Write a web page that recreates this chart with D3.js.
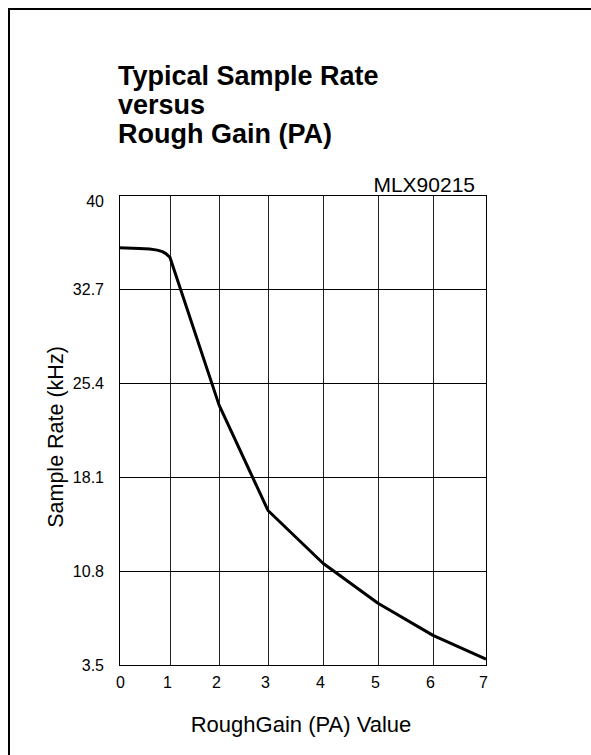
<!DOCTYPE html>
<html>
<head>
<meta charset="utf-8">
<script src="https://cdn.jsdelivr.net/npm/d3@7"></script>
<style>
  body { margin: 0; background: #fff; }
  text { font-family: "Liberation Sans", Arial, sans-serif; fill: #000; }
</style>
</head>
<body>
<script>
// data
var gainValues = [0, 0.4, 0.6, 0.75, 0.85, 0.92, 1, 2, 3, 4, 5, 6, 7]
var sampleRate = [35.9, 35.85, 35.8, 35.72, 35.6, 35.45, 35.15, 23.7, 15.5, 11.4, 8.3, 5.8, 3.95]
var xTicks = [0, 1, 2, 3, 4, 5, 6, 7]
var yTicks = [3.5, 10.8, 18.1, 25.4, 32.7, 40]
var titleLines = ["Typical Sample Rate", "versus", "Rough Gain (PA)"]

var W = 591, H = 755
var plot = {left: 119, top: 195, right: 486, bottom: 665}
// grid columns in the original are not evenly spaced
var colPos = [119, 170, 219, 268, 323, 378, 433, 486]

var svg = d3.select("body").append("svg")
    .attr("width", W).attr("height", H)

// outer frame, runs off the right/bottom edge
svg.append("rect")
    .attr("x", 9).attr("y", 9).attr("width", 700).attr("height", 900)
    .attr("fill", "none").attr("stroke", "#000").attr("stroke-width", 2)

var x = d3.scaleLinear().domain(xTicks).range(colPos)
var y = d3.scaleLinear().domain([3.5, 40]).range([plot.bottom, plot.top])

// title
svg.append("g").selectAll("text").data(titleLines).enter()
    .append("text")
    .attr("x", 118)
    .attr("y", function(d, i){ return 85 + i * 29 })
    .style("font-size", "27px").style("font-weight", "bold")
    .text(function(d){ return d })

svg.append("text")
    .attr("x", 475).attr("y", 192)
    .attr("text-anchor", "end")
    .style("font-size", "21px")
    .text("MLX90215")

// grid + labels via axes
var gx = svg.append("g")
    .attr("transform", `translate(0, ${plot.bottom})`)
    .call(d3.axisBottom(x).tickValues(xTicks).tickFormat(d3.format("d"))
        .tickSize(-(plot.bottom - plot.top)).tickPadding(0))
gx.select(".domain").remove()
gx.selectAll(".tick line").attr("stroke", "#222")
gx.selectAll(".tick text")
    .attr("y", 23).attr("dy", 0)
    .attr("dx", function(d){ return d == 0 ? 1 : -3 })
    .style("font-size", "16px")

var gy = svg.append("g")
    .attr("transform", `translate(${plot.left}, 0)`)
    .call(d3.axisLeft(y).tickValues(yTicks).tickFormat(d3.format(".1~f"))
        .tickSize(-(plot.right - plot.left)).tickPadding(0))
gy.select(".domain").remove()
gy.selectAll(".tick line").attr("stroke", "#000")
gy.selectAll(".tick text")
    .attr("x", -15)
    .attr("dy", function(d){ return d == 40 ? "0.7em" : "0.35em" })
    .style("font-size", "16px")

svg.append("rect")
    .attr("x", plot.left + 0.5).attr("y", plot.top + 0.5)
    .attr("width", plot.right - plot.left).attr("height", plot.bottom - plot.top)
    .attr("fill", "none").attr("stroke", "#000").attr("stroke-width", 1)

// the curve
var line = d3.line()
    .x(function(d){ return x(d[0]) })
    .y(function(d){ return y(d[1]) })
svg.append("path")
    .datum(d3.zip(gainValues, sampleRate))
    .attr("d", line)
    .attr("fill", "none").attr("stroke", "#000").attr("stroke-width", 3)
    .attr("stroke-linejoin", "round")

// axis titles
svg.append("text")
    .attr("x", 301).attr("y", 732)
    .attr("text-anchor", "middle")
    .style("font-size", "22px")
    .text("RoughGain (PA) Value")

svg.append("text")
    .attr("transform", "translate(63, 437) rotate(-90)")
    .attr("text-anchor", "middle")
    .style("font-size", "21.5px")
    .text("Sample Rate (kHz)")
</script>
</body>
</html>
